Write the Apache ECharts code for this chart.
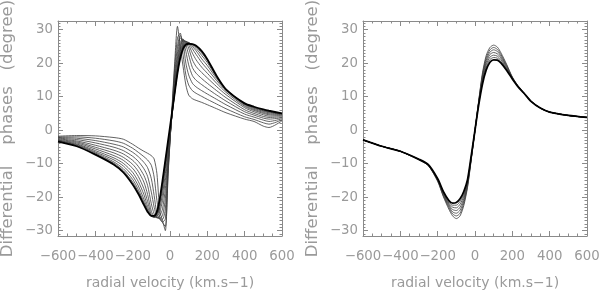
<!DOCTYPE html>
<html><head><meta charset="utf-8">
<script src="https://cdn.jsdelivr.net/npm/echarts@6/dist/echarts.min.js"></script>
<style>html,body{margin:0;padding:0;background:#fff}#c{width:600px;height:292px}</style>
</head><body><div id="c"></div>
<script>
// ---- data ----
const velL = [-600,-500,-400,-300,-250,-200,-170,-140,-120,-100,-85,-70,-55,-40,-25,-10,0,10,25,40,55,70,85,100,120,140,170,200,250,300,400,450,500,530,600];
const left0  = [-1.8,-1.6,-1.7,-2.2,-2.7,-4.2,-5.3,-6.3,-6.9,-7.6,-8.6,-13,-24,-27,-30,-13,-3.5, 6,20,31,25,19,13.5,10.5,9.4,8.9,8.3,7.6,6.4,5.2,3.3,2.6,1.2,0.8,2.8];
const left1  = [-2.0,-2.0,-2.4,-3.2,-3.9,-5.4,-6.6,-7.9,-8.9,-10.5,-14,-21,-26,-27.6,-28.8,-12.5,-3.3, 5.5,18.5,27.5,29,22.5,16.5,13.5,11.8,11,10.1,9.2,7.8,6.4,4.0,3.2,2.2,1.8,3.1];
const left2  = [-2.2,-2.4,-3.1,-4.2,-5.0,-6.6,-7.9,-9.6,-11.2,-14.5,-19.5,-25,-26.6,-27.4,-26.5,-11.5,-3, 5,16.5,25,28.3,26,20,16.5,14,12.9,11.8,10.8,9.2,7.6,4.8,3.9,3.0,2.6,3.4];
const left3  = [-2.4,-2.8,-3.8,-5.1,-6.1,-7.8,-9.3,-11.5,-13.8,-18.5,-23,-26,-26.4,-26.6,-23.5,-10.5,-2.7, 4.7,15,23,27.5,27,23.5,19.5,16.3,14.9,13.6,12.4,10.5,8.7,5.5,4.5,3.6,3.3,3.7];
const left4  = [-2.6,-3.2,-4.5,-6.0,-7.1,-9.0,-10.8,-13.5,-16.5,-22,-25,-26.2,-26.2,-25.5,-20.5,-9.5,-2.3, 4.4,14,21.5,26.5,27.2,25.5,22.5,18.7,17,15.4,14,11.8,9.7,6.1,5.0,4.1,3.8,4.0];
const left5  = [-2.8,-3.5,-5.1,-6.8,-8.1,-10.2,-12.3,-15.5,-19.2,-24.2,-25.8,-26.1,-25.6,-23.5,-17.5,-8.5,-2, 4.2,13,20,25.5,26.9,26.3,24.5,21,19,17.2,15.6,13.0,10.6,6.7,5.5,4.6,4.2,4.3];
const left6  = [-3.0,-3.8,-5.6,-7.6,-9.0,-11.4,-13.8,-17.5,-21.3,-25.2,-26,-25.8,-24.5,-21,-15,-7.5,-1.6, 4.1,12.3,19,24.5,26.6,26.6,25.5,23,21,18.8,17,14,11.3,7.1,5.9,5.0,4.6,4.5];
const left7  = [-3.1,-4.1,-6.1,-8.3,-9.9,-12.6,-15.3,-19.2,-22.8,-25.6,-26,-25.3,-23.3,-19,-13,-6.5,-1.2, 4.0,11.8,18.3,23.5,26.1,26.5,26,24.3,22.6,20.2,18.2,14.8,11.8,7.4,6.2,5.3,4.9,4.7];
const left8  = [-3.2,-4.3,-6.5,-8.9,-10.7,-13.7,-16.6,-20.6,-23.7,-25.7,-25.9,-25,-22.2,-17.5,-11.5,-5.5,-0.8, 4.0,11.3,17.8,22.8,25.5,26.3,26.2,25,23.7,21.3,19.3,15.4,12.1,7.7,6.5,5.6,5.2,4.8];
const left9  = [-3.3,-4.5,-6.8,-9.5,-11.5,-14.7,-17.7,-21.5,-24.1,-25.7,-25.8,-24.7,-21.3,-16.3,-10.3,-4.5,-0.3, 4.0,11.1,17.4,22.2,25,26,26.1,25.4,24.4,22.3,20.2,15.8,12.2,7.8,6.7,5.8,5.4,4.9];
const left10 = [-3.35,-4.7,-7.1,-9.9,-12.1,-15.5,-18.4,-22,-24.3,-25.6,-25.7,-24.5,-20.8,-15.5,-9.5,-3.7,0.3, 4.3,11,17.2,21.8,24.6,25.8,26,25.6,24.9,23,20.8,16.0,12.2,7.9,6.9,6.0,5.6,5.0];
const left11 = [-3.4,-4.8,-7.3,-10.3,-12.6,-16.2,-19.0,-22.3,-24.4,-25.6,-25.6,-24.3,-20.5,-15,-9,-3,1, 5,11,17,21.5,24.3,25.5,25.8,25.7,25.2,23.6,21.2,16.2,12.2,8.0,7.0,6.2,5.8,5.0];

const velR = [-600,-500,-400,-300,-250,-200,-170,-140,-120,-100,-80,-60,-40,-20,0,20,40,60,80,100,120,140,170,200,230,260,300,350,400,500,600];
const right0 = [-2.9,-4.8,-6.3,-8.7,-10.3,-14.5,-18.3,-21.0,-21.8,-21.6,-20.5,-18.3,-14.8,-7.6,0,7.6,13.8,18,20.3,21.0,20.9,20.0,17.8,15.3,13.0,11.2,8.6,6.6,5.4,4.4,3.8];
const right1 = [-2.9,-4.8,-6.3,-8.7,-10.35,-14.6,-18.5,-21.4,-22.4,-22.4,-21.3,-19.1,-15.1,-7.8,0,7.9,14.4,18.8,21.1,21.7,21.5,20.5,18.1,15.4,13.0,11.2,8.6,6.6,5.4,4.4,3.8];
const right2 = [-2.9,-4.8,-6.3,-8.75,-10.4,-14.7,-18.75,-21.8,-23.0,-23.2,-22.1,-19.7,-15.5,-8.0,0,8.1,15.0,19.5,21.8,22.4,22.1,21.0,18.4,15.5,13.1,11.2,8.6,6.6,5.4,4.4,3.8];
const right3 = [-2.9,-4.8,-6.3,-8.8,-10.45,-14.85,-19.0,-22.2,-23.7,-24.0,-23.0,-20.4,-15.9,-8.2,0,8.3,15.6,20.2,22.6,23.2,22.8,21.5,18.7,15.6,13.1,11.2,8.6,6.6,5.4,4.4,3.8];
const right4 = [-2.9,-4.8,-6.3,-8.85,-10.5,-15.0,-19.3,-22.6,-24.4,-24.8,-23.9,-21.1,-16.3,-8.4,0,8.5,16.1,20.9,23.3,24.0,23.5,22.0,19.0,15.7,13.2,11.2,8.7,6.6,5.4,4.4,3.8];
const right5 = [-2.9,-4.8,-6.3,-8.9,-10.55,-15.15,-19.55,-23.1,-25.0,-25.6,-24.8,-21.8,-16.7,-8.6,0,8.7,16.6,21.6,24.0,24.7,24.1,22.5,19.3,15.8,13.2,11.2,8.7,6.6,5.4,4.4,3.8];
const right6 = [-2.9,-4.8,-6.3,-8.9,-10.6,-15.3,-19.8,-23.6,-25.6,-26.4,-25.6,-22.5,-17.1,-8.8,0,8.9,17.1,22.3,24.7,25.4,24.8,23.0,19.6,15.9,13.3,11.2,8.7,6.6,5.4,4.4,3.8];

const yTicks = [-30,-20,-10,0,10,20,30];
const yMinor = [-31,-29,-28,-27,-26,-25,-24,-23,-22,-21,-19,-18,-17,-16,-15,-14,-13,-12,-11,-9,-8,-7,-6,-5,-4,-3,-2,-1,1,2,3,4,5,6,7,8,9,11,12,13,14,15,16,17,18,19,21,22,23,24,25,26,27,28,29,31,32];

const xTitle = 'radial velocity (km.s\u22121)';
const yTitle = 'Differential    phases   (degree)';

// ---- chart ----
const AX = '#8a8a8a', TX = '#9a9a9a';
const FONT = 'DejaVu Sans';
const YMIN = -31.6, YMAX = 32.6;
const minus = v => String(v).replace('-', '\u2212');

function xAxes(g) {
  const base = {
    gridIndex: g, type: 'value', min: -600, max: 600, interval: 200,
    axisLine: {show: true, onZero: false, lineStyle: {color: AX, width: 1}},
    axisTick: {show: true, inside: true, length: 5, lineStyle: {color: AX}},
    minorTick: {show: true, splitNumber: 4, length: 2.5, lineStyle: {color: AX}},
    splitLine: {show: false}, minorSplitLine: {show: false}
  };
  return [
    Object.assign({}, base, {position: 'bottom',
      axisLabel: {show: true, showMinLabel: true, showMaxLabel: true, hideOverlap: false, interval: 0,
        formatter: minus, color: TX, fontFamily: FONT, fontSize: 13.3, margin: 14},
      name: xTitle, nameLocation: 'middle', nameGap: 40,
      nameTextStyle: {color: TX, fontFamily: FONT, fontSize: 14}}),
    Object.assign({}, base, {position: 'top', axisLabel: {show: false}})
  ];
}
function yAxes(g) {
  const base = {
    gridIndex: g, type: 'value', min: YMIN, max: YMAX,
    axisLine: {show: true, onZero: false, lineStyle: {color: AX, width: 1}},
    splitLine: {show: false}
  };
  const hidden = {show: false, onZero: false};
  return [
    Object.assign({}, base, {position: 'left',
      axisTick: {show: true, inside: true, length: 5, customValues: yTicks, lineStyle: {color: AX}},
      axisLabel: {show: true, customValues: yTicks, formatter: minus, color: TX, fontFamily: FONT, fontSize: 13.3, margin: 5},
      name: yTitle, nameLocation: 'middle', nameGap: 42, nameRotate: 90,
      nameTextStyle: {color: TX, fontFamily: FONT, fontSize: 16.5}}),
    Object.assign({}, base, {position: 'right',
      axisTick: {show: true, inside: true, length: 5, customValues: yTicks, lineStyle: {color: AX}},
      axisLabel: {show: false}}),
    Object.assign({}, base, {position: 'left', axisLine: hidden,
      axisTick: {show: true, inside: true, length: 2.5, customValues: yMinor, lineStyle: {color: AX}},
      axisLabel: {show: false}}),
    Object.assign({}, base, {position: 'right', axisLine: hidden,
      axisTick: {show: true, inside: true, length: 2.5, customValues: yMinor, lineStyle: {color: AX}},
      axisLabel: {show: false}})
  ];
}

function pairs(xs, ys) { return xs.map((x, i) => [x, ys[i]]); }
function line(xi, yi, xs, ys, thick) {
  return {
    type: 'line', xAxisIndex: xi, yAxisIndex: yi, data: pairs(xs, ys),
    showSymbol: false, symbol: 'none', smooth: 0.25, silent: true, z: thick ? 3 : 2,
    lineStyle: {color: thick ? '#000' : '#3a3a3a', width: thick ? 1.8 : 0.8}
  };
}

const leftSet = [left0,left1,left2,left3,left4,left5,left6,left7,left8,left9,left10,left11];
const rightSet = [right6,right5,right4,right3,right2,right1,right0];

const series = [];
leftSet.forEach((d, i) => series.push(line(0, 0, velL, d, i === leftSet.length - 1)));
rightSet.forEach((d, i) => series.push(line(2, 4, velR, d, i === rightSet.length - 1)));

const chart = echarts.init(document.getElementById('c'), null, {renderer: 'canvas'});
chart.setOption({
  animation: false,
  backgroundColor: '#fff',
  grid: [
    {left: 58, top: 21, width: 224, height: 215, containLabel: false, outerBoundsMode: 'none'},
    {left: 363, top: 21, width: 224, height: 215, containLabel: false, outerBoundsMode: 'none'}
  ],
  xAxis: [].concat(xAxes(0), xAxes(1)),
  yAxis: [].concat(yAxes(0), yAxes(1)),
  series: series
});
</script>
</body></html>
